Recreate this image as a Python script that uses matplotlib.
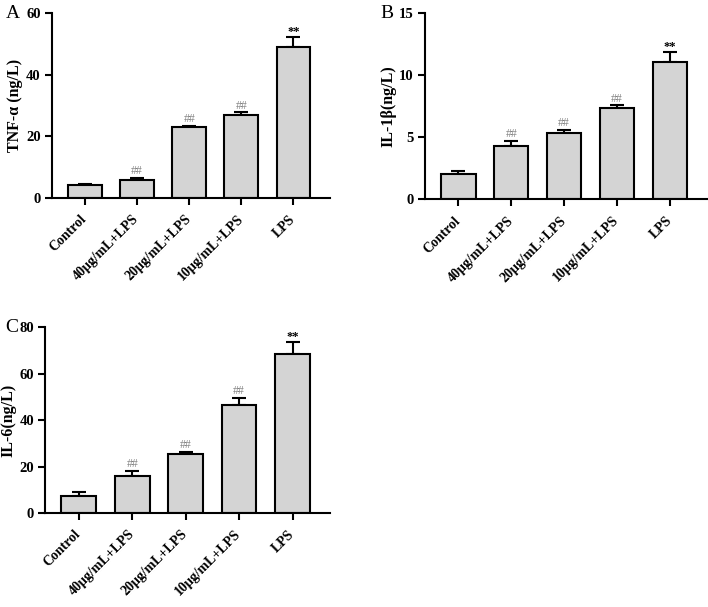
import numpy as np
import matplotlib
matplotlib.use("Agg")
import matplotlib.pyplot as plt

plt.rcParams['font.family'] = ['Liberation Serif', 'DejaVu Serif']

groups = ["Control", "40μg/mL+LPS", "20μg/mL+LPS", "10μg/mL+LPS", "LPS"]
marks = ["", "##", "##", "##", "**"]

tnf_mean = [4.1, 5.8, 23.0, 26.9, 49.0]
tnf_err = [0.4, 0.8, 0.4, 0.9, 3.2]

il1b_mean = [2.0, 4.3, 5.35, 7.35, 11.07]
il1b_err = [0.25, 0.43, 0.25, 0.22, 0.83]

il6_mean = [7.5, 15.8, 25.5, 46.3, 68.3]
il6_err = [1.6, 2.4, 0.9, 3.2, 5.5]

panels = [
    ("A", "TNF-α (ng/L)", tnf_mean, tnf_err, [0, 20, 40, 60], [0.0734, 0.6738, 0.3927, 0.3048], (6, 13)),
    ("B", "IL-1β(ng/L)", il1b_mean, il1b_err, [0, 5, 10, 15], [0.6003, 0.6720, 0.3980, 0.3060], (380, 13)),
    ("C", "IL-6(ng/L)", il6_mean, il6_err, [0, 20, 40, 60, 80], [0.0636, 0.1549, 0.4025, 0.3060], (5, 327)),
]

W, H = 708, 607
fig = plt.figure(figsize=(W / 100, H / 100), dpi=100)

for letter, ylabel, mean, err, yticks, pos, lpos in panels:
    ax = fig.add_axes(pos)
    x = np.arange(len(groups))
    ax.bar(x, mean, width=0.65, color="#d4d4d4", edgecolor="black", linewidth=1.5, zorder=2)
    ax.errorbar(x, mean, yerr=[np.zeros(len(err)), err], fmt="none", ecolor="black",
                elinewidth=1.5, capsize=5, capthick=1.5, zorder=1)
    ymax = yticks[-1]
    for xi, m, e, s in zip(x, mean, err, marks):
        if not s:
            continue
        if s == "##":
            ax.text(xi, m + e + ymax * 0.004, s, ha="center", va="bottom", fontsize=8.5, color="#808080")
        else:
            ax.text(xi, m + e - ymax * 0.005, s, ha="center", va="bottom", fontsize=9,
                    fontweight="bold", color="black")
    ax.set_xlim(-0.63, 4.7)
    ax.set_ylim(0, ymax)
    ax.set_yticks(yticks)
    ax.set_xticks(x)
    ax.set_xticklabels(groups, rotation=45, ha="right", va="center", rotation_mode="anchor",
                       fontsize=10, fontweight="bold")
    for lab in ax.get_yticklabels():
        lab.set_fontweight("bold")
        lab.set_fontsize(10.5)
    ax.set_ylabel(ylabel, fontsize=11.5, fontweight="bold", labelpad=2)
    ax.spines["top"].set_visible(False)
    ax.spines["right"].set_visible(False)
    ax.spines["left"].set_linewidth(1.5)
    ax.spines["bottom"].set_linewidth(1.5)
    ax.tick_params(width=1.5, length=5, direction="out")
    ax.tick_params(axis="y", pad=3)
    ax.tick_params(axis="x", pad=9)
    fig.text(lpos[0] / W, 1 - lpos[1] / H, letter, fontsize=14, ha="left", va="center")

fig.savefig("out.png", dpi=100)
